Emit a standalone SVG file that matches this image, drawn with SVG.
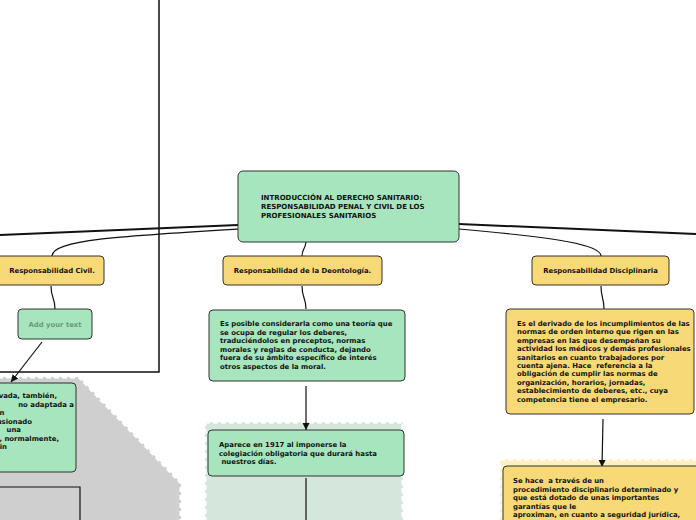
<svg xmlns="http://www.w3.org/2000/svg" width="696" height="520" viewBox="0 0 696 520">
<style>
.t{font-family:"DejaVu Sans",Verdana,sans-serif;font-weight:bold;font-size:6.9px;fill:#111}
.c{text-anchor:middle}
.e{text-anchor:end}
.g{fill:#a6e5bd;stroke:#333;stroke-width:1}
.y{fill:#f7da77;stroke:#333;stroke-width:1}
.b{stroke:#fff;stroke-width:3;stroke-dasharray:5 3}
.ln{fill:none;stroke:#111;stroke-width:1.2}
.thick{fill:none;stroke:#111;stroke-width:2}
</style>
<defs>
<marker id="ah" markerUnits="userSpaceOnUse" markerWidth="8" markerHeight="8" refX="7" refY="4" orient="auto">
<path d="M0,0.5 L7,4 L0,7.5 Z" fill="#111"/>
</marker>
</defs>
<rect width="696" height="520" fill="#fff"/>
<g id="boundaries">
<path class="b" d="M-10,377 L79,377 L181,483 L181,530 L-10,530 Z" fill="#cfcfcf"/>
<path class="b" d="M205,422 L403,422 L403,530 L205,530 Z" fill="#d5e7dc"/>
<path class="b" d="M500,459 L706,459 L706,530 L500,530 Z" fill="#fcf0c4"/>
<path d="M159,-5 L159,372 L-5,372" fill="none" stroke="#111" stroke-width="1.5"/>
<path d="M-5,487 L80,487 L80,525" fill="none" stroke="#111" stroke-width="1.2"/>
</g>
<g id="connectors">
<path class="thick" d="M238,225 L-2,235"/>
<path class="thick" d="M459,224 L698,234"/>
<path class="ln" d="M238,229 C120,236 52,240 52,256"/>
<path class="ln" d="M459,229 C560,238 601,245 601,256"/>
<path class="ln" d="M306,242 C305,250 302,249 302,256"/>
<path class="ln" d="M51,286 C51,299 55,297 55,309"/>
<path class="ln" d="M302,286 C302,299 306,297 306,309"/>
<path class="ln" d="M601,286 C601,299 604,297 604,309"/>
<path class="ln" d="M42,342 L11,382" marker-end="url(#ah)"/>
<path class="ln" d="M306,386 L306,430" marker-end="url(#ah)"/>
<path class="ln" d="M603,419 L602,467" marker-end="url(#ah)"/>
<path class="ln" d="M306,478 L306,522"/>
</g>
<g id="central">
<rect class="g" x="238" y="171" width="221" height="71" rx="5"/>
<text class="t" x="261" y="200" style="font-size:7px">INTRODUCCIÓN AL DERECHO SANITARIO:</text>
<text class="t" x="261" y="209" style="font-size:7px">RESPONSABILIDAD PENAL Y CIVIL DE LOS</text>
<text class="t" x="261" y="217.5" style="font-size:7px">PROFESIONALES SANITARIOS</text>
</g>
<g id="civil">
<rect class="y" x="-6" y="256" width="110" height="29" rx="4"/>
<text class="t c" x="52" y="273">Responsabilidad Civil.</text>
</g>
<g id="addtext">
<rect class="g" x="18" y="309" width="74" height="30" rx="4"/>
<text class="t c" x="55" y="327" style="fill:#6b9a7c">Add your text</text>
</g>
<g id="civil-detail">
<rect class="g" x="-10" y="383" width="86" height="89" rx="4"/>
<text class="t e" x="57" y="398">vada, también,</text>
<text class="t e" x="74" y="406.5">no adaptada a</text>
<text class="t e" x="4.5" y="415">n</text>
<text class="t e" x="32" y="423.5">usionado</text>
<text class="t e" x="21" y="432">una</text>
<text class="t e" x="59" y="440.5">, normalmente,</text>
<text class="t e" x="7" y="449">in</text>
</g>
<g id="deontologia">
<rect class="y" x="223" y="256" width="159" height="29" rx="4"/>
<text class="t c" x="302.5" y="273">Responsabilidad de la Deontología.</text>
</g>
<g id="deontologia-detail">
<rect class="g" x="209" y="310" width="196" height="71" rx="4"/>
<text class="t" x="220" y="326">Es posible considerarla como una teoría que</text>
<text class="t" x="220" y="334.5">se ocupa de regular los deberes,</text>
<text class="t" x="220" y="343">traduciéndolos en preceptos, normas</text>
<text class="t" x="220" y="351.5">morales y reglas de conducta, dejando</text>
<text class="t" x="220" y="360">fuera de su ámbito específico de interés</text>
<text class="t" x="220" y="368.5">otros aspectos de la moral.</text>
</g>
<g id="aparece">
<rect class="g" x="208" y="430" width="196" height="46" rx="4"/>
<text class="t" x="219" y="447">Aparece en 1917 al imponerse la</text>
<text class="t" x="219" y="455.5">colegiación obligatoria que durará hasta</text>
<text class="t" x="219" y="464" xml:space="preserve"> nuestros días.</text>
</g>
<g id="disciplinaria">
<rect class="y" x="532" y="256" width="137" height="29" rx="4"/>
<text class="t c" x="600.5" y="273">Responsabilidad Disciplinaria</text>
</g>
<g id="disciplinaria-detail">
<rect class="y" x="506" y="309" width="188" height="105" rx="4"/>
<text class="t" x="517" y="326">Es el derivado de los incumplimientos de las</text>
<text class="t" x="517" y="334.4">normas de orden interno que rigen en las</text>
<text class="t" x="517" y="342.8">empresas en las que desempeñan su</text>
<text class="t" x="517" y="351.2">actividad los médicos y demás profesionales</text>
<text class="t" x="517" y="359.6">sanitarios en cuanto trabajadores por</text>
<text class="t" x="517" y="368" xml:space="preserve">cuenta ajena. Hace  referencia a la</text>
<text class="t" x="517" y="376.4">obligación de cumplir las normas de</text>
<text class="t" x="517" y="384.8">organización, horarios, jornadas,</text>
<text class="t" x="517" y="393.2">establecimiento de deberes, etc., cuya</text>
<text class="t" x="517" y="401.6">competencia tiene el empresario.</text>
</g>
<g id="procedimiento">
<rect class="y" x="503" y="466" width="203" height="70" rx="4"/>
<text class="t" x="513" y="483" xml:space="preserve">Se hace  a través de un</text>
<text class="t" x="513" y="491.5">procedimiento disciplinario determinado y</text>
<text class="t" x="513" y="500">que está dotado de unas importantes</text>
<text class="t" x="513" y="508.5">garantías que le</text>
<text class="t" x="513" y="517">aproximan, en cuanto a seguridad jurídica,</text>
</g>
</svg>
